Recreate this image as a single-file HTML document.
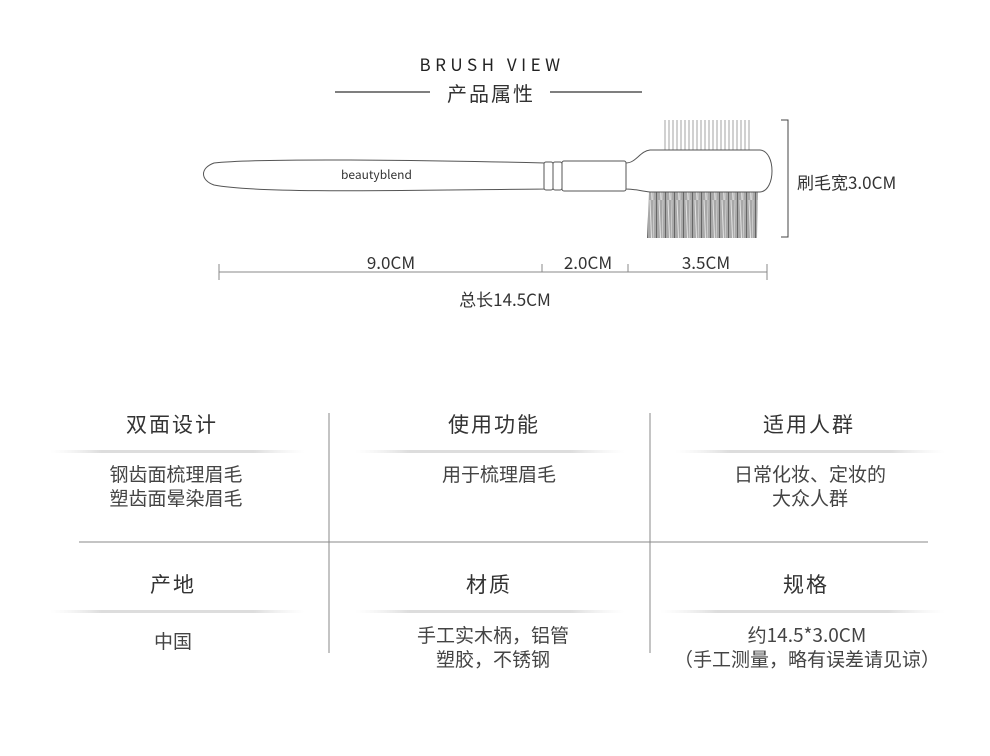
<!DOCTYPE html>
<html><head><meta charset="utf-8"><style>
html,body{margin:0;padding:0;background:#fff;}
svg{display:block;}
text{font-family:"Noto Sans CJK SC","Liberation Sans",sans-serif;}
</style></head><body>
<svg width="990" height="756" viewBox="0 0 990 756" xmlns="http://www.w3.org/2000/svg">
<defs>
<pattern id="steel" width="4" height="40" patternUnits="userSpaceOnUse"><rect width="4" height="40" fill="#fff"/><line x1="1" y1="0" x2="1" y2="40" stroke="#999" stroke-width="0.9"/></pattern>
<pattern id="nylon" width="9" height="50" patternUnits="userSpaceOnUse"><rect width="9" height="50" fill="#a8a8a8"/><line x1="2" y1="0" x2="4" y2="50" stroke="#e4e4e4" stroke-width="1"/><line x1="6" y1="0" x2="5" y2="50" stroke="#d4d4d4" stroke-width="0.8"/><line x1="8.5" y1="0" x2="8.5" y2="50" stroke="#555" stroke-width="0.8"/></pattern>
<linearGradient id="g" x1="0" x2="1"><stop offset="0" stop-color="#eee" stop-opacity="0"/><stop offset="0.2" stop-color="#ddd"/><stop offset="0.8" stop-color="#ddd"/><stop offset="1" stop-color="#eee" stop-opacity="0"/></linearGradient>
</defs>
<text x="492" y="71" text-anchor="middle" font-size="17" letter-spacing="4.5" fill="#222" font-family="Liberation Sans">BRUSH  VIEW</text>
<line x1="335" y1="92" x2="430" y2="92" stroke="#333" stroke-width="1.2"/>
<line x1="550" y1="92" x2="642" y2="92" stroke="#333" stroke-width="1.2"/>
<text x="491" y="101" text-anchor="middle" font-size="20" letter-spacing="2" fill="#333">产品属性</text>

<rect x="662" y="120" width="90" height="31" fill="url(#steel)"/>
<polygon points="649,192 758,192 757,238 647,238" fill="url(#nylon)"/>
<path d="M214,163 C260,158 420,160 545,163 L545,189 C420,190 260,194 214,185 C200,180 200,168 214,163 Z" fill="#fff" stroke="#555" stroke-width="1"/>
<text x="341" y="179" font-size="12" fill="#333" font-family="Liberation Sans">beautyblend</text>
<rect x="544" y="162" width="9" height="28" rx="2" fill="#fff" stroke="#555"/>
<rect x="553" y="162" width="9" height="28" rx="2" fill="#fff" stroke="#555"/>
<rect x="562" y="161" width="64" height="30" rx="2" fill="#fff" stroke="#555"/>
<path d="M626,163 C636,163 640,151 650,150 L760,150 C776,151 776,191 760,192 L650,192 C640,191 636,189 626,189 Z" fill="#fff" stroke="#555"/>
<path d="M781,120 L788,120 L788,237 L781,237" fill="none" stroke="#444"/>
<text x="797" y="189" font-size="17" fill="#333">刷毛宽3.0CM</text>
<line x1="219" y1="272" x2="767" y2="272" stroke="#888"/>
<line x1="219" y1="264" x2="219" y2="280" stroke="#888"/>
<line x1="542" y1="264" x2="542" y2="272" stroke="#888"/>
<line x1="628" y1="264" x2="628" y2="272" stroke="#888"/>
<line x1="767" y1="264" x2="767" y2="280" stroke="#888"/>
<text x="391" y="269" text-anchor="middle" font-size="17" fill="#333">9.0CM</text>
<text x="588" y="269" text-anchor="middle" font-size="17" fill="#333">2.0CM</text>
<text x="706" y="269" text-anchor="middle" font-size="17" fill="#333">3.5CM</text>
<text x="505" y="306" text-anchor="middle" font-size="17" fill="#333">总长14.5CM</text>

<line x1="329" y1="413" x2="329" y2="653" stroke="#888"/>
<line x1="650" y1="413" x2="650" y2="653" stroke="#888"/>
<line x1="79" y1="542" x2="928" y2="542" stroke="#888"/>
<rect x="50" y="450" width="255" height="3" fill="url(#g)"/>
<rect x="355" y="450" width="270" height="3" fill="url(#g)"/>
<rect x="675" y="450" width="270" height="3" fill="url(#g)"/>
<rect x="50" y="610" width="255" height="3" fill="url(#g)"/>
<rect x="355" y="610" width="270" height="3" fill="url(#g)"/>
<rect x="660" y="610" width="285" height="3" fill="url(#g)"/>
<g font-size="21" fill="#333" text-anchor="middle" letter-spacing="2">
<text x="172" y="432">双面设计</text>
<text x="494" y="432">使用功能</text>
<text x="809" y="432">适用人群</text>
<text x="173" y="592">产地</text>
<text x="489" y="592">材质</text>
<text x="806" y="592">规格</text>
</g>
<g font-size="19" fill="#444" text-anchor="middle">
<text x="176" y="481">钢齿面梳理眉毛</text>
<text x="176" y="505">塑齿面晕染眉毛</text>
<text x="499" y="481">用于梳理眉毛</text>
<text x="810" y="481">日常化妆、定妆的</text>
<text x="810" y="505">大众人群</text>
<text x="173" y="648">中国</text>
<text x="493" y="642">手工实木柄，铝管</text>
<text x="493" y="666">塑胶，不锈钢</text>
<text x="807" y="642">约14.5*3.0CM</text>
<text x="807" y="666">（手工测量，略有误差请见谅）</text>
</g>
</svg>
</body></html>
